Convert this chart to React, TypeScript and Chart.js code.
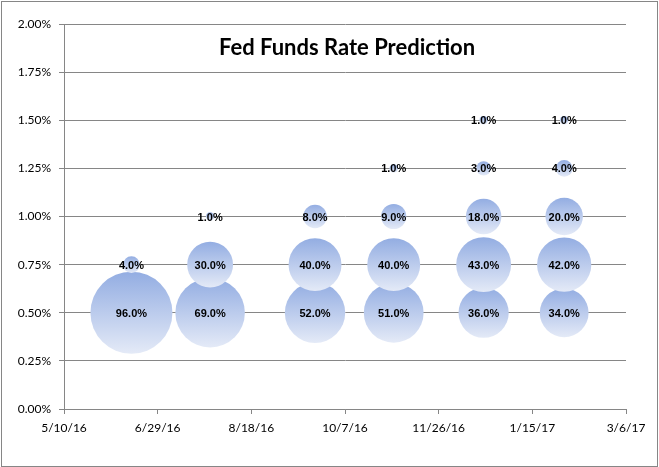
import { useEffect, useRef } from 'react';
import { Chart, registerables } from 'chart.js';

Chart.register(...registerables);

// ---- data ----
const chartTitle = 'Fed Funds Rate Prediction';
const meetingDates = ['2016-06-15', '2016-07-27', '2016-09-21', '2016-11-02', '2016-12-20', '2017-02-01'];
const rateLevels = [0.5, 0.75, 1.0, 1.25, 1.5];
const prob050 = [96, 69, 52, 51, 36, 34];
const prob075 = [4, 30, 40, 40, 43, 42];
const prob100 = [null, 1, 8, 9, 18, 20];
const prob125 = [null, null, null, 1, 3, 4];
const prob150 = [null, null, null, null, 1, 1];
const seriesByLevel = [prob050, prob075, prob100, prob125, prob150];
const xAxisStart = '2016-05-10';
const xAxisEnd = '2017-03-06';
const xStepDays = 50;
const yMin = 0;
const yMax = 2;
const yStep = 0.25;

// ---- style ----
const MAX_R = 41;
const MAX_V = 96;
const GRAY = '#868686';
const TOP_COLOR = '#93ADE2';
const BOTTOM_COLOR = '#E4EAF7';

const toDay = (s: string) => {
  const [y, m, d] = s.split('-').map(Number);
  return Date.UTC(y, m - 1, d) / 86400000;
};
const fmtDay = (n: number) => {
  const dt = new Date(Math.round(n) * 86400000);
  return `${dt.getUTCMonth() + 1}/${dt.getUTCDate()}/${String(dt.getUTCFullYear()).slice(2)}`;
};

export default function App() {
  const ref = useRef<HTMLCanvasElement | null>(null);
  useEffect(() => {
    if (!ref.current) return;
    const datasets = rateLevels.map((lvl, i) => ({
      label: lvl.toFixed(2) + '%',
      order: rateLevels.length - i,
      data: meetingDates
        .map((d, j) => {
          const v = seriesByLevel[i][j];
          if (v === null || v === undefined) return null;
          return { x: toDay(d), y: lvl, r: MAX_R * Math.sqrt(v / MAX_V), v };
        })
        .filter((p) => p !== null),
      borderWidth: 0,
      backgroundColor: (ctx: any) => {
        const raw = ctx.raw;
        const chart = ctx.chart;
        if (!raw || !chart.scales || !chart.scales.y) return TOP_COLOR;
        const yc = chart.scales.y.getPixelForValue(raw.y);
        if (!isFinite(yc) || !isFinite(raw.r)) return TOP_COLOR;
        const g = chart.ctx.createLinearGradient(0, yc - raw.r, 0, yc + raw.r);
        g.addColorStop(0, TOP_COLOR);
        g.addColorStop(1, BOTTOM_COLOR);
        return g;
      },
    }));

    const bgPlugin = {
      id: 'bgBorder',
      beforeDraw(chart: any) {
        const c = chart.ctx;
        c.save();
        c.fillStyle = '#ffffff';
        c.fillRect(0, 0, chart.width, chart.height);
        c.strokeStyle = GRAY;
        c.lineWidth = 1;
        c.strokeRect(1.5, 1.5, chart.width - 3, chart.height - 2);
        c.restore();
      },
    };
    const labelPlugin = {
      id: 'bubbleLabels',
      afterDatasetsDraw(chart: any) {
        const c = chart.ctx;
        c.save();
        c.font = 'bold 11px "Liberation Sans"';
        c.fillStyle = '#000000';
        c.textAlign = 'center';
        c.textBaseline = 'middle';
        chart.data.datasets.forEach((ds: any, i: number) => {
          const meta = chart.getDatasetMeta(i);
          meta.data.forEach((el: any, j: number) => {
            const p = ds.data[j];
            c.fillText(p.v.toFixed(1) + '%', el.x, el.y + 1);
          });
        });
        c.font = 'bold 22px Lato';
        c.textBaseline = 'middle';
        c.fillText(chartTitle, 347, 48);
        c.restore();
      },
    };

    const chart = new Chart(ref.current, {
      type: 'bubble',
      data: { datasets: datasets as any },
      plugins: [bgPlugin, labelPlugin],
      options: {
        responsive: false,
        animation: false,
        events: [],
        layout: { autoPadding: false, padding: { left: 0, top: 24, right: 33, bottom: 0 } },
        plugins: { legend: { display: false }, tooltip: { enabled: false }, title: { display: false } },
        scales: {
          x: {
            type: 'linear',
            min: toDay(xAxisStart),
            max: toDay(xAxisEnd),
            afterFit: (s: any) => { s.height = 58; },
            ticks: {
              stepSize: xStepDays,
              callback: (v: any) => fmtDay(Number(v)),
              color: '#000000',
              font: { family: 'Lato', size: 12 },
              padding: 7,
              maxRotation: 0,
              autoSkip: false,
            },
            grid: { drawOnChartArea: false, drawTicks: true, tickLength: 5, color: GRAY },
            border: { color: GRAY, width: 1 },
          },
          y: {
            type: 'linear',
            min: yMin,
            max: yMax,
            afterFit: (s: any) => { s.width = 64; },
            ticks: {
              stepSize: yStep,
              callback: (v: any) => Number(v).toFixed(2) + '%',
              color: '#000000',
              font: { family: 'Lato', size: 12 },
              padding: 8,
            },
            grid: { color: GRAY, tickLength: 5, drawTicks: true },
            border: { color: GRAY, width: 1 },
          },
        },
      },
    });
    return () => chart.destroy();
  }, []);
  return (
    <div style={{ position: 'absolute', left: 0, top: 0, width: 659, height: 467 }}>
      <canvas ref={ref} width={659} height={467} />
    </div>
  );
}
